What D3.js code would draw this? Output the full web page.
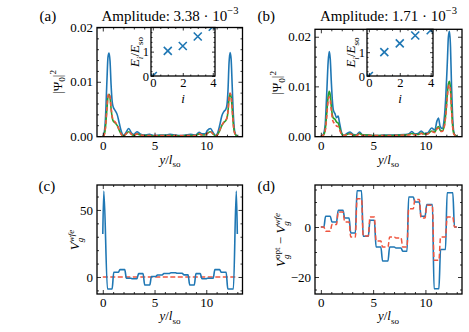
<!DOCTYPE html>
<html><head><meta charset="utf-8">
<script src="https://cdn.jsdelivr.net/npm/d3@7"></script>
<style>
body{margin:0;background:#fff}
svg{display:block}
text{font-family:"Liberation Serif","Times New Roman",serif;fill:#000}
</style>
</head><body>
<svg id="fig" width="469" height="332"></svg>
<script>
// ---------------- DATA ----------------
const xsA = [0,0.1,0.25,0.4,0.5,0.6,0.7,0.8,0.9,1.0,1.2,1.4,1.6,1.8,2.0,2.2,2.5,2.8,3.0,3.3,3.6,4.0,4.5,5.0,5.5,6.0,6.5,7.0,7.5,8.0,8.5,9.0,9.3,9.6,9.9,10.1,10.4,10.7,10.9,11.1,11.3,11.5,11.7,11.9,12.0,12.1,12.2,12.3,12.4,12.5,12.6,12.75,12.9,13.0];
const blueA = [0,0.0003,0.003,0.0102,0.0145,0.0153,0.0138,0.0095,0.0065,0.0054,0.0047,0.0039,0.0023,0.0008,0.0001,0.0005,0.0014,0.0005,0.0003,0.0008,0.0004,0.0002,0.0003,0.0001,0.0002,0.0002,0.0003,0.0002,0.0001,0.0002,0.0003,0.0002,0.0007,0.0004,0.0004,0.001,0.0014,0.0005,0.0001,0.0006,0.002,0.0037,0.0045,0.005,0.0058,0.0085,0.0135,0.0154,0.0142,0.0095,0.0045,0.0008,0.0001,0];
const redA = [0,0.0001,0.0015,0.0052,0.0074,0.0078,0.0072,0.0052,0.0037,0.003,0.0026,0.002,0.0011,0.0003,0,0.0003,0.0008,0.0003,0.0001,0.0004,0.0002,0.0001,0.0001,0.0001,0.0001,0.0001,0.0001,0.0001,0.0001,0.0001,0.0001,0.0001,0.0004,0.0002,0.0002,0.0005,0.0008,0.0003,0,0.0003,0.0011,0.002,0.0026,0.003,0.0034,0.0047,0.007,0.0079,0.0073,0.0052,0.0025,0.0005,0.0001,0];
const greenA = [0,0.0001,0.0014,0.005,0.0072,0.0077,0.0071,0.0051,0.0035,0.0028,0.0024,0.0019,0.001,0.0003,0,0.0003,0.0008,0.0003,0.0001,0.0004,0.0002,0.0001,0.0001,0,0.0001,0.0001,0.0001,0.0001,0,0.0001,0.0001,0.0001,0.0004,0.0002,0.0002,0.0005,0.0008,0.0003,0,0.0003,0.001,0.0019,0.0025,0.0029,0.0033,0.0046,0.0069,0.0078,0.0072,0.0051,0.0024,0.0005,0.0001,0];

const xsB = [0,0.2,0.4,0.55,0.7,0.8,0.9,1.0,1.1,1.2,1.35,1.5,1.65,1.8,2.0,2.2,2.5,2.8,3.1,3.4,3.7,4.0,4.5,5.0,5.5,6.0,7.0,8.0,8.4,8.7,9.0,9.3,9.6,9.9,10.2,10.6,10.9,11.1,11.25,11.4,11.6,11.8,11.95,12.1,12.2,12.3,12.4,12.5,12.6,12.7,12.85,13.0];
const blueB = [0,0.0002,0.002,0.008,0.015,0.017,0.0155,0.011,0.0072,0.0052,0.0045,0.0037,0.004,0.0025,0.0006,0.0001,0.0005,0.0008,0.0003,0.0002,0.0008,0.0002,0.0002,0.0001,0.0001,0.0002,0.0002,0.0003,0.0004,0.0009,0.0004,0.0005,0.001,0.0005,0.0006,0.0016,0.0012,0.003,0.0036,0.002,0.0015,0.0035,0.008,0.015,0.02,0.0211,0.018,0.01,0.004,0.001,0.0001,0];
const greenB = [0,0.0001,0.001,0.0042,0.008,0.009,0.0082,0.006,0.0042,0.0036,0.0034,0.0028,0.0026,0.0016,0.0004,0.0001,0.0003,0.0005,0.0002,0.0001,0.0005,0.0002,0.0002,0.0001,0.0001,0.0001,0.0001,0.0002,0.0003,0.0005,0.0003,0.0003,0.0006,0.0004,0.0004,0.001,0.0008,0.0016,0.0019,0.0012,0.001,0.002,0.0045,0.0085,0.0105,0.011,0.0095,0.0055,0.0022,0.0006,0.0001,0];
const redB = [0,0.0001,0.0009,0.0037,0.0072,0.0079,0.0072,0.0052,0.0035,0.0028,0.0025,0.002,0.0019,0.0012,0.0003,0.0001,0.0003,0.0004,0.0002,0.0001,0.0004,0.0001,0.0001,0.0001,0.0001,0.0001,0.0001,0.0002,0.0002,0.0004,0.0002,0.0003,0.0005,0.0003,0.0004,0.0009,0.0007,0.0014,0.0016,0.001,0.0009,0.0018,0.0042,0.008,0.0099,0.0103,0.009,0.0052,0.002,0.0005,0.0001,0];

// insets: level energies
const levelIdx = [0,1,2,3,4];
const energiesA = [0,1.03,1.23,1.62,2.02];
const energiesB = [0,1.0,1.37,1.7,1.92];

// gate segments for (c) and (d)
const gateEdges = [0.37,0.98,1.58,2.2,2.78,3.38,3.97,4.62,5.2,5.82,6.5,7.1,7.75,8.32,8.92,9.5,10.05,10.75,11.37,12.0,12.7];
const vWfe = [-9,3.5,5.5,-1,-1.3,2.5,-6,0.3,1.5,2.6,3.2,2.8,1.6,-6,2.5,-1.3,-1,5.5,3.5,-9];
const cLeftX = [0,0.1], cLeftY = [32,64];
const cRightX = [12.9,13.0], cRightY = [64,32];
const cRefX = [0,13], cRefY = [0,0];
const dBlue = [4.3,2,6.7,3.6,-2.4,14.5,-3.7,2.7,-8,-13.6,-8,-8.4,-9.7,12,10,4.3,9,-24.7,-9,13.7];
const dRed = [-1.7,1,6,2,-4,11.3,-3.6,4,-5.6,-8,-4,-4.4,-8,7.3,11,3.6,8.7,-13.3,-4,4];
const dEndsX = [0,13];

const titleA = "3.38", titleB = "1.71";

// ---------------- DRAW ----------------
const svg = d3.select("#fig");
const C_BLUE = "#1f77b4", C_GREEN = "#2ca02c", C_RED = "#ef553f";
const XDOM = [-0.56, 13.5];

function rich(sel, parts, size) {
  const sub = size*0.28, sup = -size*0.42, ss = size*0.7;
  let cur = 0;
  parts.forEach(p => {
    const want = p.sub ? sub : (p.sup ? sup : 0);
    const ts = sel.append("tspan").text(p.t).attr("dy", want - cur);
    if (p.dx) ts.attr("dx", p.dx);
    if (p.sub || p.sup) ts.attr("font-size", ss);
    if (p.it) ts.attr("font-style", "italic");
    cur = want;
  });
  return sel;
}

let clipN = 0;
function panel(box, xd, yd, xMaj, xMin, yMaj, yMin, fmtY, opts={}) {
  const x = d3.scaleLinear().domain(xd).range([box.l, box.r]);
  const y = d3.scaleLinear().domain(yd).range([box.b, box.t]);
  const g = svg.append("g");
  const fs = opts.fs || 13, big = opts.big || 4, small = opts.small || 2, pad = opts.pad || 4;
  if (opts.bg) g.append("rect").attr("x", box.l).attr("y", box.t).attr("width", box.r-box.l).attr("height", box.b-box.t).attr("fill", "#fff");
  const id = "clip" + (clipN++);
  g.append("clipPath").attr("id", id).append("rect").attr("x", box.l).attr("y", box.t).attr("width", box.r-box.l).attr("height", box.b-box.t);
  const plot = g.append("g").attr("clip-path", `url(#${id})`);
  const ax = g.append("g");
  const style = s => { s.selectAll(".domain").remove(); s.selectAll("line").attr("stroke","#000").attr("stroke-width",0.8); s.selectAll("text").attr("font-size",fs).attr("font-family",'"Liberation Serif",serif').attr("fill","#000"); s.attr("font-family",null).attr("font-size",null); };
  ax.append("g").attr("transform",`translate(0,${box.b})`).call(d3.axisBottom(x).tickValues(xMaj).tickSize(-big).tickPadding(pad).tickFormat(d3.format("d"))).call(style);
  ax.append("g").attr("transform",`translate(0,${box.b})`).call(d3.axisBottom(x).tickValues(xMin).tickSize(-small).tickFormat("")).call(style);
  ax.append("g").attr("transform",`translate(0,${box.t})`).call(d3.axisTop(x).tickValues(xMaj).tickSize(-big).tickFormat("")).call(style);
  ax.append("g").attr("transform",`translate(0,${box.t})`).call(d3.axisTop(x).tickValues(xMin).tickSize(-small).tickFormat("")).call(style);
  ax.append("g").attr("transform",`translate(${box.l},0)`).call(d3.axisLeft(y).tickValues(yMaj).tickSize(-big).tickPadding(pad).tickFormat(fmtY)).call(style);
  ax.append("g").attr("transform",`translate(${box.l},0)`).call(d3.axisLeft(y).tickValues(yMin).tickSize(-small).tickFormat("")).call(style);
  ax.append("g").attr("transform",`translate(${box.r},0)`).call(d3.axisRight(y).tickValues(yMaj).tickSize(-big).tickFormat("")).call(style);
  ax.append("g").attr("transform",`translate(${box.r},0)`).call(d3.axisRight(y).tickValues(yMin).tickSize(-small).tickFormat("")).call(style);
  ax.append("rect").attr("x", box.l).attr("y", box.t).attr("width", box.r-box.l).attr("height", box.b-box.t).attr("fill","none").attr("stroke","#000").attr("stroke-width",1.3);
  return {x, y, g, plot, ax};
}

function drawLine(p, xs, ys, color, dash, w=1.5, curve=d3.curveMonotoneX) {
  const line = d3.line().x(d=>p.x(d[0])).y(d=>p.y(d[1])).curve(curve);
  const path = p.plot.append("path").datum(xs.map((v,i)=>[v, ys[i]])).attr("d", line).attr("fill","none").attr("stroke",color).attr("stroke-width",w).attr("stroke-linejoin","round");
  if (dash) path.attr("stroke-dasharray", dash);
  return path;
}

function stepPts(edges, vals, t) {
  const pts = [];
  vals.forEach((v,i) => { pts.push([edges[i]+t, v]); pts.push([edges[i+1]-t, v]); });
  return pts;
}
function drawPts(p, pts, color, dash, w=1.5) {
  const line = d3.line().x(d=>p.x(d[0])).y(d=>p.y(d[1])).curve(d3.curveMonotoneX);
  const path = p.plot.append("path").datum(pts).attr("d", line).attr("fill","none").attr("stroke",color).attr("stroke-width",w);
  if (dash) path.attr("stroke-dasharray", dash);
}

const fmt2 = d3.format(".2f");
const minus = d => d3.format("d")(d).replace("-", "\u2212");
const xMaj = [0,5,10], xMin = d3.range(0,14,1).filter(v=>v%5!==0);
const xlabelParts = [{t:"y",it:true},{t:"/"},{t:"l",it:true},{t:"so",sub:true}];
const psiParts = [{t:"|Ψ"},{t:"0",sub:true},{t:"|"},{t:"2",sup:true}];

function xlabel(cx, yb) { rich(svg.append("text").attr("x",cx).attr("y",yb).attr("text-anchor","middle").attr("font-size",13), xlabelParts, 13); }
function ylabel(x, cy, parts) { rich(svg.append("text").attr("transform",`translate(${x},${cy}) rotate(-90)`).attr("text-anchor","middle").attr("font-size",13), parts, 13); }
function title(cx, val) {
  rich(svg.append("text").attr("x",cx).attr("y",20.5).attr("text-anchor","middle").attr("font-size",15), [{t:`Amplitude: ${val} · 10`},{t:"\u22123",sup:true}], 15);
}
function tag(x, y, s) { svg.append("text").attr("x",x).attr("y",y).attr("font-size",15).text(s); }

function inset(box, yd, es) {
  const xd = [-0.12, 4.15];
  const p = panel(box, xd, yd, [0,2,4], [0.5,1,1.5,2.5,3,3.5], [0,1], [0.2,0.4,0.6,0.8,1.2,1.4,1.6,1.8], d3.format("d"), {bg:true, big:3, small:1.5, pad:2, fs:12.5});
  const s = 4;
  levelIdx.forEach((i,k) => {
    const cx = p.x(i), cy = p.y(es[k]);
    p.plot.append("path").attr("d",`M${cx-s},${cy-s}L${cx+s},${cy+s}M${cx-s},${cy+s}L${cx+s},${cy-s}`).attr("stroke",C_BLUE).attr("stroke-width",1.6).attr("fill","none");
  });
  return p;
}

// Panel (a)
const A = panel({l:97,r:242.5,t:27.5,b:136.7}, XDOM, [-0.00012,0.02], xMaj, xMin, [0,0.01,0.02], d3.range(0.002,0.02,0.002).filter((v,i)=>(i+1)%5!==0), fmt2);
drawLine(A, xsA, blueA, C_BLUE, null, 1.6);
drawLine(A, xsA, greenA, C_GREEN, null, 1.6);
drawLine(A, xsA, redA, C_RED, "4,2.5", 1.6);
inset({l:151,r:215,t:27.5,b:76}, [0,1.99], energiesA);

// Panel (b)
const B = panel({l:315,r:462,t:29.3,b:136.7}, XDOM, [-0.00014,0.0215], xMaj, xMin, [0,0.01,0.02], d3.range(0.002,0.0215,0.002).filter((v,i)=>(i+1)%5!==0), fmt2);
drawLine(B, xsB, blueB, C_BLUE, null, 1.6);
drawLine(B, xsB, greenB, C_GREEN, null, 1.6);
drawLine(B, xsB, redB, C_RED, "4,2.5", 1.6);
inset({l:367,r:433,t:29.3,b:76}, [0,1.96], energiesB);

// Panel (c)
const Cp = panel({l:97,r:242.5,t:185,b:294}, XDOM, [-12.7,68.6], xMaj, xMin, [0,50], [-10,10,20,30,40,60], minus);
drawLine(Cp, cRefX, cRefY, C_RED, "5,2.5", 1.5, d3.curveLinear);
const cPts = cLeftX.map((v,i)=>[v,cLeftY[i]]).concat(stepPts(gateEdges, vWfe, 0.08)).concat(cRightX.map((v,i)=>[v,cRightY[i]]));
drawPts(Cp, cPts, C_BLUE, null, 1.6);

// Panel (d)
const D = panel({l:315,r:462,t:185,b:294}, XDOM, [-26.8,16.8], xMaj, xMin, [-20,0], [-25,-15,-10,-5,5,10,15], minus);
const endL = [[dEndsX[0],0],[gateEdges[0]-0.08,0]], endR = [[gateEdges[20]+0.08,0],[dEndsX[1],0]];
drawPts(D, endL.concat(stepPts(gateEdges, dBlue, 0.08)).concat(endR), C_BLUE, null, 1.6);
drawPts(D, endL.concat(stepPts(gateEdges, dRed, 0.08)).concat(endR), C_RED, "5,2.5", 1.5);

// Labels
title(170, titleA); title(388.5, titleB);
tag(39.5, 20.5, "(a)"); tag(257.5, 20.5, "(b)");
tag(38.5, 191, "(c)"); tag(257.5, 191, "(d)");
xlabel(170, 163.5); xlabel(388.5, 163.5);
xlabel(170, 320); xlabel(388.5, 320);
ylabel(61.5, 82, psiParts); ylabel(281, 83, psiParts);
ylabel(79, 240, [{t:"V",it:true},{t:"g",sub:true,it:true},{t:"wfe",sup:true,it:true,dx:-4.5}]);
ylabel(285, 240, [{t:"V",it:true},{t:"g",sub:true,it:true},{t:"opt",sup:true,dx:-4.5},{t:" − "},{t:"V",it:true},{t:"g",sub:true,it:true},{t:"wfe",sup:true,it:true,dx:-4.5}]);
// inset labels
const insetY = [{t:"E",it:true},{t:"i",sub:true,it:true},{t:"/"},{t:"E",it:true},{t:"so",sub:true}];
ylabel(139, 52, insetY); ylabel(355, 52.5, insetY);
rich(svg.append("text").attr("x",183).attr("y",102.5).attr("text-anchor","middle").attr("font-size",13), [{t:"i",it:true}], 13);
rich(svg.append("text").attr("x",400).attr("y",102.5).attr("text-anchor","middle").attr("font-size",13), [{t:"i",it:true}], 13);
</script>
</body></html>
